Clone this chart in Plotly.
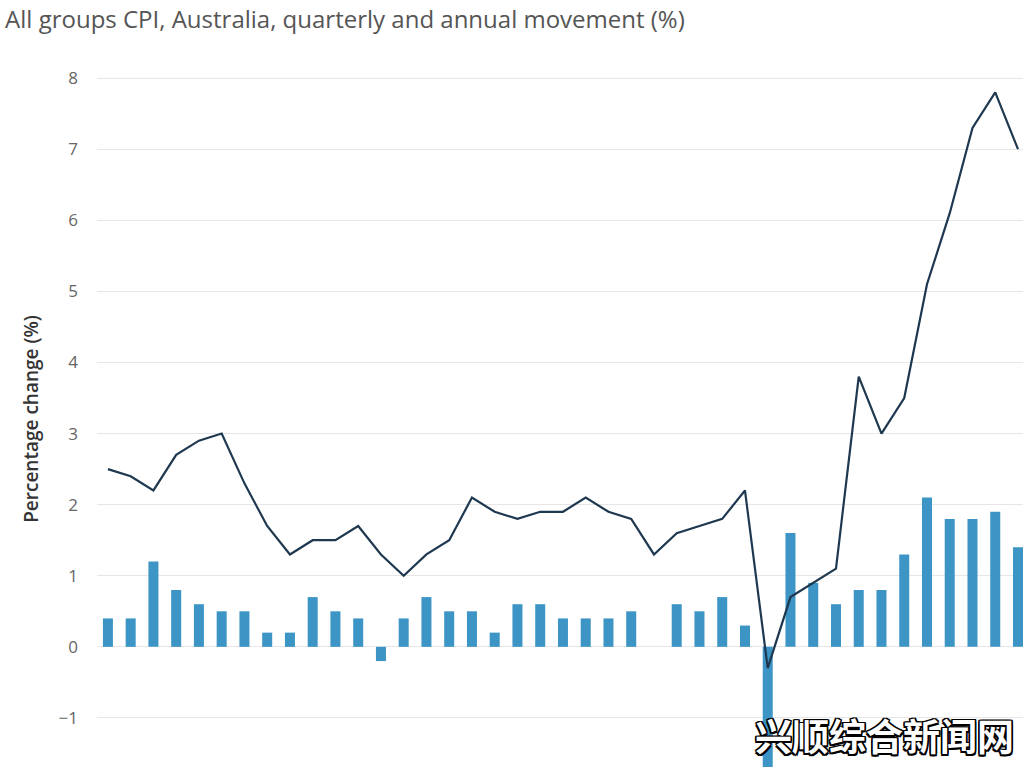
import plotly.graph_objects as go

quarters = [
    "Mar-13", "Jun-13", "Sep-13", "Dec-13",
    "Mar-14", "Jun-14", "Sep-14", "Dec-14",
    "Mar-15", "Jun-15", "Sep-15", "Dec-15",
    "Mar-16", "Jun-16", "Sep-16", "Dec-16",
    "Mar-17", "Jun-17", "Sep-17", "Dec-17",
    "Mar-18", "Jun-18", "Sep-18", "Dec-18",
    "Mar-19", "Jun-19", "Sep-19", "Dec-19",
    "Mar-20", "Jun-20", "Sep-20", "Dec-20",
    "Mar-21", "Jun-21", "Sep-21", "Dec-21",
    "Mar-22", "Jun-22", "Sep-22", "Dec-22",
    "Mar-23",
]
quarterly_change = [
    0.4, 0.4, 1.2, 0.8,
    0.6, 0.5, 0.5, 0.2,
    0.2, 0.7, 0.5, 0.4,
    -0.2, 0.4, 0.7, 0.5,
    0.5, 0.2, 0.6, 0.6,
    0.4, 0.4, 0.4, 0.5,
    0.0, 0.6, 0.5, 0.7,
    0.3, -1.9, 1.6, 0.9,
    0.6, 0.8, 0.8, 1.3,
    2.1, 1.8, 1.8, 1.9,
    1.4,
]
annual_change = [
    2.5, 2.4, 2.2, 2.7,
    2.9, 3.0, 2.3, 1.7,
    1.3, 1.5, 1.5, 1.7,
    1.3, 1.0, 1.3, 1.5,
    2.1, 1.9, 1.8, 1.9,
    1.9, 2.1, 1.9, 1.8,
    1.3, 1.6, 1.7, 1.8,
    2.2, -0.3, 0.7, 0.9,
    1.1, 3.8, 3.0, 3.5,
    5.1, 6.1, 7.3, 7.8,
    7.0,
]
y_ticks = [-1, 0, 1, 2, 3, 4, 5, 6, 7, 8]

fig = go.Figure()
fig.add_trace(go.Bar(
    x=quarters, y=quarterly_change, name="Quarterly change",
    marker=dict(color="#3d95c6", line=dict(width=0)),
    width=0.44,
))
fig.add_trace(go.Scatter(
    x=quarters, y=annual_change, name="Annual change",
    mode="lines", line=dict(color="#1e3850", width=2.2),
))

fig.update_layout(
    width=1023, height=767,
    margin=dict(l=97, r=0, t=71, b=0),
    paper_bgcolor="white", plot_bgcolor="white",
    showlegend=False,
    font=dict(family="Open Sans", color="#666666"),
    title=dict(
        text="All groups CPI, Australia, quarterly and annual movement (%)",
        x=0.005, xanchor="left", y=0.975, yanchor="middle",
        font=dict(family="Open Sans", size=24, color="#555555"),
    ),
    xaxis=dict(
        type="category",
        range=[-0.48, 40.22],
        showticklabels=False, showgrid=False, zeroline=False,
        showline=False, ticks="",
    ),
    yaxis=dict(
        range=[-1.69, 8.1],
        tickvals=y_ticks,
        showgrid=True, gridcolor="#e6e6e6", gridwidth=1,
        zeroline=False, showline=False,
        ticks="", ticklabelstandoff=18,
        tickfont=dict(family="Open Sans", size=17, color="#666666"),
        title=dict(text="Percentage change (%)", standoff=14,
                   font=dict(family="Open Sans", size=19, weight=600, color="#333333")),
    ),
    bargap=0.5,
)

fig.add_annotation(
    text="<b>兴顺综合新闻网</b>",
    xref="paper", yref="paper", x=0.992, y=0.004,
    xanchor="right", yanchor="bottom", showarrow=False,
    font=dict(family="Noto Sans CJK SC", size=37, color="white",
              shadow="1.5px 0 0 #000, -1.5px 0 0 #000, 0 1.5px 0 #000, 0 -1.5px 0 #000, 1.5px 1.5px 0 #000, -1.5px -1.5px 0 #000, 1.5px -1.5px 0 #000, -1.5px 1.5px 0 #000"),
)

fig.write_html(
    "out.html",
    config={"displayModeBar": False},
    post_script="document.body.style.margin='0';document.body.style.overflow='hidden';",
)
